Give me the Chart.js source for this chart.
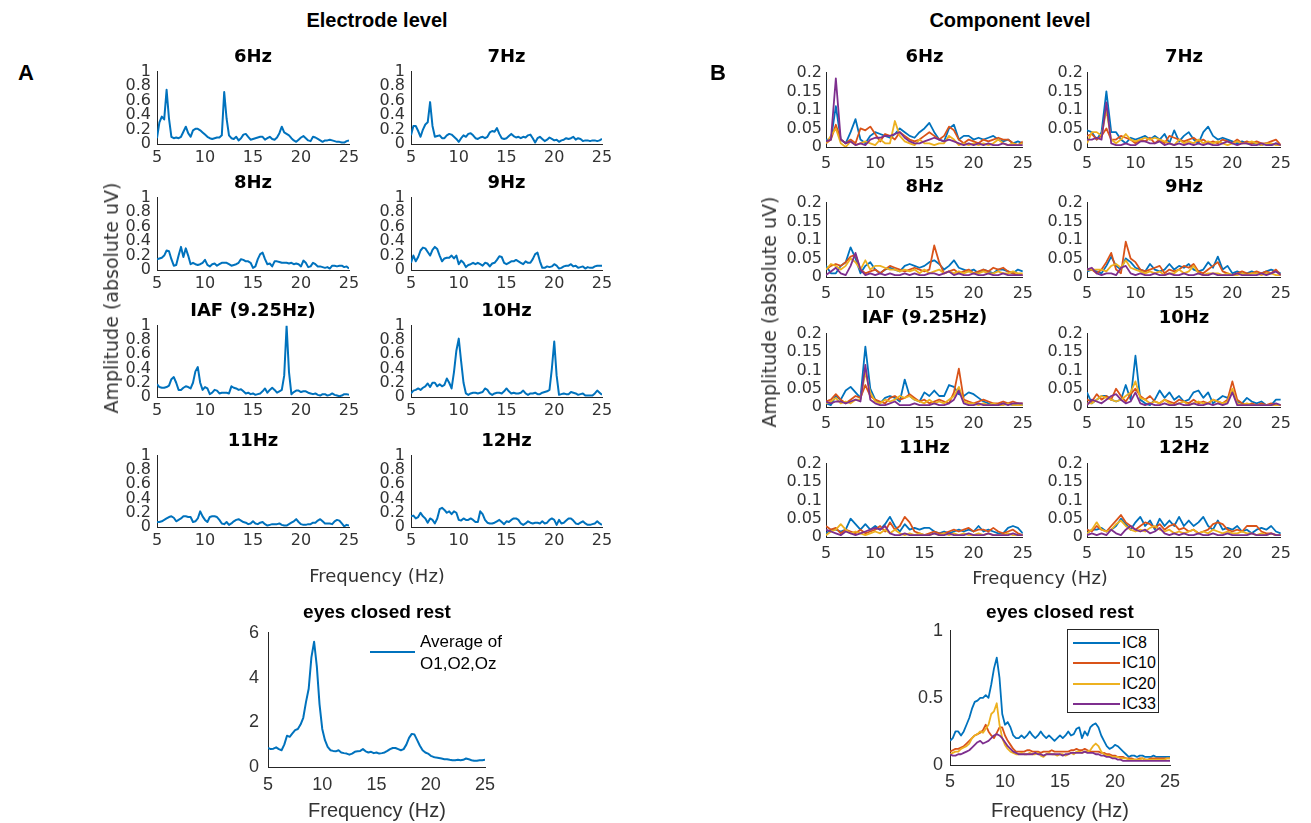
<!DOCTYPE html>
<html><head><meta charset="utf-8">
<script src="https://cdn.jsdelivr.net/npm/chart.js@4.4.1/dist/chart.umd.min.js"></script>
<style>
html,body{margin:0;padding:0;background:#fff;}
#fig{position:relative;width:1311px;height:823px;overflow:hidden;background:#fff;}
#fig canvas{position:absolute;z-index:1;}
.t{position:absolute;z-index:2;white-space:nowrap;color:#000;transform:translate(-50%,-50%);line-height:1;}
</style></head><body><div id="fig"></div>
<script>
// ---------- frequency axes ----------
const freqFine = [5,5.25,5.5,5.75,6,6.25,6.5,6.75,7,7.25,7.5,7.75,8,8.25,8.5,8.75,9,9.25,9.5,9.75,
 10,10.25,10.5,10.75,11,11.25,11.5,11.75,12,12.25,12.5,12.75,13,13.25,13.5,13.75,14,14.25,14.5,14.75,
 15,15.25,15.5,15.75,16,16.25,16.5,16.75,17,17.25,17.5,17.75,18,18.25,18.5,18.75,19,19.25,19.5,19.75,
 20,20.25,20.5,20.75,21,21.25,21.5,21.75,22,22.25,22.5,22.75,23,23.25,23.5,23.75,24,24.25,24.5,24.75,25];
const freqCoarse = [5,5.5,6,6.5,7,7.5,8,8.5,9,9.5,10,10.5,11,11.5,12,12.5,13,13.5,14,14.5,
 15,15.5,16,16.5,17,17.5,18,18.5,19,19.5,20,20.5,21,21.5,22,22.5,23,23.5,24,24.5,25];

// ---------- tick labels ----------
const xTicks = [5,10,15,20,25];
const yTicksElectrode = [0,0.2,0.4,0.6,0.8,1];
const yTicksComponent = [0,0.05,0.1,0.15,0.2];
const yTicksRestElectrode = [0,2,4,6];
const yTicksRestComponent = [0,0.5,1];

// ---------- electrode level (absolute uV) ----------
const elec6Hz = [0.08,0.30,0.38,0.34, 0.75,0.35,0.10,0.08, 0.09,0.08,0.10,0.17, 0.24,0.15,0.10,0.19,
 0.21,0.21,0.19,0.16, 0.13,0.10,0.08,0.07, 0.08,0.09,0.09,0.12, 0.72,0.35,0.12,0.08, 0.07,0.10,0.05,0.08,
 0.13,0.14,0.10,0.06, 0.07,0.08,0.09,0.10, 0.10,0.06,0.08,0.10, 0.07,0.06,0.09,0.15, 0.24,0.16,0.14,0.12,
 0.08,0.05,0.03,0.06, 0.09,0.11,0.08,0.05, 0.04,0.10,0.09,0.07, 0.05,0.03,0.05,0.05, 0.06,0.05,0.04,0.03,
 0.03,0.02,0.02,0.04, 0.05];
const elec7Hz = [0.12,0.25,0.25,0.18, 0.10,0.20,0.27,0.30, 0.58,0.25,0.10,0.11, 0.12,0.08,0.08,0.12,
 0.14,0.13,0.10,0.07, 0.03,0.08,0.12,0.10, 0.14,0.15,0.12,0.08, 0.07,0.09,0.10,0.08, 0.10,0.16,0.18,0.17,
 0.22,0.14,0.08,0.07, 0.08,0.11,0.14,0.11, 0.09,0.10,0.08,0.10, 0.09,0.12,0.13,0.08, 0.02,0.08,0.10,0.07,
 0.04,0.06,0.09,0.07, 0.05,0.06,0.03,0.05, 0.06,0.08,0.07,0.08, 0.10,0.06,0.08,0.07, 0.04,0.05,0.05,0.04,
 0.05,0.05,0.04,0.05, 0.07];
const elec8Hz = [0.15,0.16,0.17,0.20, 0.27,0.26,0.15,0.06, 0.07,0.20,0.32,0.18, 0.30,0.20,0.08,0.10,
 0.08,0.07,0.08,0.10, 0.14,0.07,0.05,0.08, 0.09,0.06,0.08,0.10, 0.10,0.10,0.08,0.06, 0.07,0.08,0.10,0.15,
 0.14,0.12,0.12,0.10, 0.03,0.05,0.15,0.22, 0.24,0.15,0.08,0.09, 0.05,0.12,0.12,0.11, 0.10,0.10,0.10,0.09,
 0.10,0.08,0.09,0.08, 0.05,0.13,0.10,0.04, 0.05,0.10,0.08,0.05, 0.05,0.04,0.03,0.04, 0.02,0.06,0.06,0.05,
 0.06,0.06,0.04,0.05, 0.02];
const elec9Hz = [0.10,0.20,0.12,0.18, 0.27,0.31,0.30,0.25, 0.20,0.28,0.32,0.29, 0.20,0.12,0.16,0.17,
 0.17,0.20,0.16,0.20, 0.08,0.13,0.10,0.04, 0.07,0.08,0.10,0.08, 0.10,0.08,0.06,0.10, 0.09,0.05,0.09,0.10,
 0.14,0.19,0.18,0.10, 0.08,0.10,0.12,0.12, 0.14,0.12,0.10,0.08, 0.12,0.10,0.10,0.15, 0.22,0.24,0.12,0.03,
 0.03,0.05,0.04,0.05, 0.08,0.06,0.02,0.03, 0.05,0.06,0.06,0.08, 0.05,0.06,0.03,0.04, 0.05,0.02,0.04,0.03,
 0.03,0.05,0.06,0.06, 0.06];
const elecIAF = [0.18,0.14,0.13,0.13, 0.14,0.16,0.25,0.28, 0.20,0.10,0.10,0.13, 0.15,0.14,0.12,0.20,
 0.36,0.42,0.20,0.10, 0.14,0.12,0.04,0.06, 0.10,0.09,0.05,0.06, 0.06,0.06,0.05,0.15, 0.13,0.12,0.10,0.11,
 0.08,0.05,0.06,0.04, 0.05,0.03,0.04,0.05, 0.08,0.12,0.06,0.10, 0.13,0.10,0.06,0.08, 0.10,0.30,1.00,0.35,
 0.04,0.07,0.09,0.09, 0.07,0.08,0.08,0.06, 0.05,0.04,0.05,0.03, 0.02,0.04,0.04,0.02, 0.03,0.05,0.03,0.02,
 0.01,0.02,0.04,0.04, 0.03];
const elec10Hz = [0.05,0.09,0.10,0.12, 0.10,0.13,0.15,0.19, 0.14,0.20,0.20,0.15, 0.18,0.15,0.17,0.26,
 0.20,0.12,0.35,0.65, 0.82,0.50,0.20,0.05, 0.03,0.05,0.06,0.06, 0.05,0.06,0.07,0.12, 0.10,0.05,0.03,0.05,
 0.06,0.06,0.05,0.08, 0.12,0.08,0.05,0.06, 0.05,0.05,0.06,0.09, 0.05,0.03,0.05,0.05, 0.06,0.04,0.04,0.06,
 0.07,0.08,0.10,0.40, 0.78,0.30,0.03,0.04, 0.05,0.04,0.04,0.07, 0.06,0.05,0.03,0.04, 0.05,0.02,0.02,0.02,
 0.02,0.05,0.09,0.06, 0.03];
const elec11Hz = [0.07,0.07,0.08,0.10, 0.12,0.14,0.15,0.13, 0.08,0.10,0.12,0.15, 0.15,0.14,0.14,0.07,
 0.08,0.12,0.22,0.15, 0.10,0.07,0.14,0.15, 0.15,0.14,0.10,0.05, 0.04,0.07,0.03,0.05, 0.08,0.10,0.11,0.09,
 0.07,0.06,0.04,0.05, 0.08,0.05,0.04,0.06, 0.07,0.04,0.02,0.03, 0.04,0.04,0.04,0.05, 0.03,0.02,0.02,0.04,
 0.06,0.08,0.11,0.07, 0.04,0.03,0.03,0.04, 0.04,0.06,0.06,0.09, 0.11,0.08,0.05,0.05, 0.05,0.04,0.08,0.10,
 0.09,0.05,0.01,0.03, 0.02];
const elec12Hz = [0.15,0.16,0.12,0.14, 0.20,0.15,0.12,0.06, 0.12,0.10,0.05,0.12, 0.25,0.27,0.24,0.20,
 0.22,0.18,0.22,0.20, 0.10,0.09,0.12,0.10, 0.10,0.12,0.10,0.07, 0.07,0.22,0.18,0.10, 0.06,0.05,0.05,0.06,
 0.08,0.10,0.07,0.04, 0.08,0.07,0.10,0.12, 0.12,0.10,0.05,0.03, 0.05,0.08,0.06,0.05, 0.06,0.06,0.05,0.08,
 0.05,0.06,0.10,0.12, 0.10,0.03,0.10,0.05, 0.06,0.09,0.12,0.12, 0.09,0.05,0.04,0.06, 0.08,0.05,0.03,0.03,
 0.04,0.05,0.08,0.05, 0.03];
const elecRest = [0.85,0.80,0.82,0.88, 0.80,0.75,1.00,1.40, 1.35,1.50,1.65,1.70, 1.90,2.20,2.90,3.50,
 4.90,5.60,4.50,2.80, 1.70,1.20,0.90,0.75, 0.72,0.70,0.75,0.65, 0.62,0.60,0.55,0.60, 0.68,0.70,0.72,0.80,
 0.70,0.65,0.68,0.62, 0.65,0.60,0.62,0.65, 0.72,0.80,0.85,0.85, 0.80,0.75,0.80,1.00, 1.30,1.48,1.45,1.20,
 0.95,0.75,0.65,0.60, 0.50,0.45,0.42,0.40, 0.38,0.35,0.35,0.32, 0.30,0.30,0.32,0.30, 0.32,0.38,0.35,0.30,
 0.28,0.28,0.30,0.30, 0.32];

// ---------- component level (IC8, IC10, IC20, IC33) ----------
const comp6Hz_IC8  = [0.02,0.02,0.11,0.02,0.01,0.04,0.075,0.02,0.01,0.03, 0.04,0.035,0.03,0.025,0.035,0.05,0.04,0.03,0.025,0.04, 0.05,0.065,0.04,0.02,0.015,0.05,0.06,0.02,0.03,0.03, 0.02,0.025,0.02,0.025,0.03,0.02,0.015,0.02,0.01,0.015, 0.01];
const comp6Hz_IC10 = [0.01,0.02,0.06,0.02,0.01,0.02,0.01,0.05,0.045,0.055, 0.035,0.015,0.035,0.03,0.02,0.04,0.03,0.02,0.015,0.02, 0.03,0.04,0.03,0.02,0.03,0.055,0.045,0.02,0.01,0.02, 0.015,0.01,0.02,0.015,0.02,0.025,0.02,0.02,0.01,0.005, 0.015];
const comp6Hz_IC20 = [0.01,0.03,0.05,0.01,0,0.015,0.005,0.01,0.015,0.01, 0.005,0.02,0.01,0.01,0.07,0.03,0.015,0.01,0.005,0.02, 0.01,0.01,0.005,0.01,0.01,0.03,0.02,0.005,0.01,0.005, 0.01,0.005,0.01,0.005,0.01,0.02,0.01,0.005,0.01,0.005, 0.01];
const comp6Hz_IC33 = [0.015,0.02,0.185,0.02,0.01,0.015,0.005,0.01,0.005,0.02, 0.025,0.025,0.03,0.03,0.035,0.04,0.025,0.015,0.01,0.01, 0.015,0.02,0.025,0.02,0.015,0.02,0.015,0.01,0.005,0.01, 0.005,0.01,0.005,0.01,0.005,0.005,0.01,0.005,0.005,0.005, 0.005];

const comp7Hz_IC8  = [0.045,0.04,0.02,0.04,0.15,0.04,0.04,0.02,0.01,0.025, 0.02,0.025,0.03,0.02,0.03,0.02,0.035,0.01,0.045,0.015, 0.03,0.04,0.02,0.01,0.04,0.055,0.03,0.02,0.025,0.02, 0.015,0.01,0.015,0.01,0.01,0.01,0.005,0.01,0.005,0.01, 0.005];
const comp7Hz_IC10 = [0.03,0.035,0.02,0.03,0.05,0.02,0.02,0.03,0.025,0.02, 0.01,0.02,0.015,0.025,0.01,0.02,0.01,0.03,0.025,0.02, 0.015,0.02,0.025,0.015,0.02,0.01,0.015,0.01,0.02,0.015, 0.01,0.02,0.01,0.015,0.01,0.015,0.01,0.01,0.015,0.02, 0.005];
const comp7Hz_IC20 = [0.01,0.04,0.04,0.03,0.1,0.02,0.01,0.02,0.035,0.02, 0.015,0.02,0.025,0.02,0.025,0.02,0.015,0.01,0.005,0.02, 0.01,0.015,0.01,0.02,0.01,0.015,0.01,0.015,0.01,0.005, 0.01,0.015,0.01,0.01,0.015,0.01,0.005,0.01,0.01,0.005, 0.005];
const comp7Hz_IC33 = [0.02,0.02,0.025,0.02,0.12,0.01,0.005,0.005,0.01,0.005, 0.005,0.015,0.015,0.01,0.01,0.015,0.005,0.01,0.005,0.01, 0.005,0.01,0.005,0.01,0.005,0.01,0.005,0.005,0.01,0.015, 0.01,0.005,0.01,0.01,0.005,0.005,0.01,0.005,0.005,0.01, 0.005];

const comp8Hz_IC8  = [0.03,0.01,0.01,0.03,0.04,0.08,0.05,0.01,0.03,0.04, 0.02,0.01,0.02,0.025,0.02,0.015,0.03,0.035,0.03,0.025, 0.03,0.04,0.045,0.035,0.02,0.03,0.045,0.025,0.02,0.015, 0.02,0.01,0.02,0.015,0.01,0.02,0.02,0.015,0.01,0.02, 0.015];
const comp8Hz_IC10 = [0.02,0.03,0.035,0.03,0.04,0.055,0.06,0.02,0.01,0.015, 0.02,0.01,0.02,0.03,0.025,0.02,0.015,0.02,0.025,0.02, 0.015,0.02,0.085,0.04,0.01,0.015,0.02,0.01,0.015,0.02, 0.01,0.015,0.02,0.015,0.025,0.02,0.025,0.015,0.01,0.005, 0.005];
const comp8Hz_IC20 = [0.02,0.035,0.03,0.02,0.03,0.05,0.04,0.02,0.045,0.02, 0.03,0.03,0.025,0.02,0.02,0.015,0.02,0.015,0.02,0.01, 0.02,0.01,0.015,0.02,0.01,0.015,0.01,0.015,0.01,0.015, 0.01,0.01,0.015,0.01,0.01,0.015,0.01,0.01,0.015,0.01, 0.01];
const comp8Hz_IC33 = [0.005,0.015,0.025,0.01,0.005,0.03,0.065,0.02,0.005,0.01, 0.005,0.01,0.005,0.01,0.005,0.005,0.01,0.005,0.01,0.005, 0.005,0.01,0.01,0.005,0.01,0.015,0.005,0.01,0.005,0.005, 0.01,0.005,0.005,0.01,0.005,0.005,0.01,0.005,0.005,0.005, 0.005];

const comp9Hz_IC8  = [0.015,0.02,0.015,0.01,0.03,0.055,0.03,0.02,0.05,0.04, 0.025,0.02,0.015,0.035,0.02,0.015,0.02,0.035,0.02,0.03, 0.025,0.035,0.02,0.015,0.02,0.04,0.025,0.055,0.02,0.03, 0.01,0.015,0.01,0.01,0.015,0.01,0.01,0.015,0.02,0.015, 0.01];
const comp9Hz_IC10 = [0.02,0.02,0.01,0.02,0.04,0.065,0.02,0.01,0.095,0.05, 0.04,0.02,0.015,0.02,0.025,0.03,0.01,0.02,0.015,0.02, 0.03,0.025,0.035,0.015,0.01,0.02,0.03,0.04,0.015,0.01, 0.005,0.01,0.015,0.01,0.01,0.015,0.01,0.015,0.01,0.02, 0.005];
const comp9Hz_IC20 = [0.02,0.02,0.02,0.02,0.015,0.03,0.035,0.025,0.045,0.025, 0.02,0.015,0.01,0.015,0.01,0.015,0.005,0.01,0.01,0.02, 0.01,0.015,0.03,0.01,0.005,0.01,0.01,0.01,0.005,0.01, 0.005,0.005,0.01,0.005,0.01,0.01,0.005,0.01,0.01,0.005, 0.005];
const comp9Hz_IC33 = [0.02,0.025,0.01,0.005,0.01,0.01,0.005,0.025,0.03,0.01, 0.005,0.01,0.005,0.005,0.01,0.005,0.005,0.01,0.005,0.005, 0.01,0.005,0.005,0.01,0.005,0.005,0.01,0.005,0.005,0.005, 0.005,0.01,0.005,0.005,0.005,0.005,0.01,0.005,0.01,0.015, 0.005];

const compIAF_IC8  = [0.01,0.005,0.03,0.02,0.045,0.055,0.04,0.025,0.165,0.05, 0.02,0.01,0.025,0.03,0.025,0.015,0.075,0.03,0.02,0.015, 0.04,0.03,0.045,0.03,0.03,0.06,0.055,0.035,0.03,0.04, 0.035,0.025,0.015,0.01,0.005,0.005,0.01,0.01,0.005,0.01, 0.005];
const compIAF_IC10 = [0.015,0.02,0.035,0.02,0.01,0.02,0.03,0.025,0.06,0.03, 0.02,0.015,0.01,0.025,0.03,0.02,0.025,0.035,0.025,0.015, 0.02,0.01,0.015,0.02,0.015,0.01,0.04,0.105,0.02,0.015, 0.01,0.015,0.02,0.015,0.01,0.01,0.015,0.01,0.015,0.01, 0.01];
const compIAF_IC20 = [0.01,0.015,0.025,0.01,0.015,0.01,0.02,0.02,0.095,0.04, 0.015,0.01,0.02,0.015,0.02,0.03,0.025,0.03,0.02,0.015, 0.01,0.02,0.01,0.015,0.01,0.02,0.03,0.055,0.015,0.01, 0.01,0.005,0.01,0.005,0.01,0.005,0.005,0.01,0.005,0.005, 0.005];
const compIAF_IC33 = [0.015,0.01,0.015,0.015,0.01,0.015,0.02,0.015,0.115,0.02, 0.01,0.005,0.005,0.01,0.015,0.005,0.005,0.005,0.01,0.005, 0.005,0.005,0.01,0.005,0.005,0.01,0.02,0.045,0.01,0.005, 0.005,0.01,0.005,0.005,0.005,0.005,0.01,0.005,0.01,0.01, 0.01];

const comp10Hz_IC8  = [0.04,0.01,0.02,0.03,0.03,0.02,0.015,0.02,0.06,0.02, 0.14,0.02,0.01,0.005,0.02,0.045,0.025,0.04,0.02,0.03, 0.015,0.02,0.04,0.045,0.025,0.04,0.01,0.02,0.03,0.025, 0.04,0.015,0.01,0.025,0.015,0.01,0.015,0.005,0.005,0.02, 0.02];
const comp10Hz_IC10 = [0.02,0.015,0.035,0.02,0.03,0.02,0.05,0.03,0.015,0.035, 0.05,0.03,0.02,0.03,0.015,0.01,0.02,0.015,0.01,0.02, 0.015,0.01,0.02,0.01,0.015,0.01,0.02,0.015,0.01,0.02, 0.07,0.02,0.01,0.005,0.01,0.005,0.01,0.005,0.01,0.005, 0.005];
const comp10Hz_IC20 = [0.01,0.01,0.02,0.03,0.025,0.02,0.015,0.02,0.03,0.04, 0.07,0.025,0.02,0.01,0.015,0.01,0.02,0.01,0.005,0.01, 0.015,0.005,0.01,0.015,0.01,0.01,0.02,0.015,0.01,0.015, 0.05,0.01,0.005,0.01,0.005,0.005,0.005,0.005,0.005,0.005, 0.005];
const comp10Hz_IC33 = [0.005,0.02,0.015,0.01,0.02,0.03,0.035,0.02,0.01,0.015, 0.04,0.01,0.005,0.01,0.005,0.005,0.01,0.005,0.005,0.01, 0.005,0.005,0.01,0.005,0.005,0.01,0.005,0.01,0.005,0.01, 0.04,0.005,0.005,0.005,0.005,0.005,0.005,0.005,0.005,0.01, 0.005];

const comp11Hz_IC8  = [0.01,0.02,0.02,0.015,0.02,0.05,0.035,0.02,0.035,0.02, 0.03,0.02,0.035,0.055,0.03,0.015,0.035,0.02,0.025,0.02, 0.025,0.025,0.015,0.01,0.015,0.01,0.015,0.02,0.015,0.02, 0.015,0.03,0.015,0.02,0.015,0.01,0.01,0.025,0.03,0.025, 0.01];
const comp11Hz_IC10 = [0.03,0.02,0.025,0.01,0.02,0.015,0.01,0.02,0.01,0.015, 0.02,0.03,0.015,0.04,0.02,0.03,0.055,0.04,0.015,0.01, 0.005,0.01,0.015,0.01,0.01,0.015,0.02,0.015,0.02,0.025, 0.015,0.02,0.02,0.015,0.025,0.015,0.01,0.015,0.02,0.01, 0.005];
const comp11Hz_IC20 = [0.005,0.015,0.02,0.035,0.02,0.01,0.015,0.01,0.005,0.01, 0.015,0.01,0.02,0.01,0.02,0.01,0.005,0.01,0.005,0.01, 0.005,0.005,0.01,0.005,0.01,0.005,0.01,0.005,0.01,0.005, 0.005,0.01,0.005,0.01,0.005,0.005,0.005,0.01,0.005,0.005, 0.005];
const comp11Hz_IC33 = [0.02,0.015,0.01,0.005,0.015,0.01,0.005,0.01,0.015,0.02, 0.025,0.02,0.03,0.01,0.005,0.005,0.01,0.005,0.005,0.005, 0.005,0.005,0.01,0.005,0.005,0.01,0.005,0.005,0.005,0.01, 0.005,0.005,0.005,0.01,0.005,0.005,0.005,0.005,0.01,0.005, 0.005];

const comp12Hz_IC8  = [0.01,0.02,0.02,0.025,0.015,0.02,0.03,0.05,0.035,0.02, 0.04,0.055,0.03,0.045,0.02,0.05,0.03,0.045,0.03,0.055, 0.03,0.045,0.03,0.04,0.055,0.03,0.02,0.045,0.02,0.025, 0.02,0.03,0.015,0.02,0.01,0.02,0.025,0.02,0.03,0.015, 0.01];
const comp12Hz_IC10 = [0.02,0.015,0.03,0.02,0.015,0.03,0.045,0.06,0.04,0.03, 0.02,0.03,0.04,0.035,0.025,0.035,0.02,0.03,0.035,0.02, 0.025,0.015,0.02,0.01,0.015,0.02,0.035,0.04,0.035,0.02, 0.015,0.02,0.015,0.03,0.03,0.03,0.015,0.01,0.01,0.005, 0.005];
const comp12Hz_IC20 = [0.01,0.02,0.04,0.02,0.015,0.02,0.035,0.045,0.03,0.02, 0.015,0.02,0.015,0.025,0.03,0.02,0.015,0.02,0.01,0.015, 0.01,0.015,0.02,0.01,0.015,0.01,0.02,0.015,0.01,0.015, 0.01,0.01,0.015,0.01,0.01,0.005,0.01,0.005,0.01,0.005, 0.005];
const comp12Hz_IC33 = [0.005,0.01,0.005,0.01,0.005,0.02,0.01,0.005,0.02,0.03, 0.02,0.015,0.02,0.01,0.015,0.025,0.01,0.005,0.01,0.005, 0.01,0.005,0.005,0.01,0.005,0.005,0.01,0.005,0.005,0.01, 0.005,0.005,0.005,0.005,0.01,0.005,0.005,0.005,0.01,0.005, 0.005];

const compRest_IC8 = [0.18,0.20,0.25,0.25, 0.22,0.25,0.30,0.35, 0.42,0.47,0.48,0.50, 0.50,0.52,0.50,0.60,
 0.72,0.80,0.65,0.38, 0.30,0.32,0.28,0.22, 0.20,0.20,0.22,0.20, 0.22,0.25,0.22,0.20, 0.22,0.25,0.22,0.20,
 0.22,0.20,0.18,0.20, 0.22,0.20,0.22,0.25, 0.22,0.23,0.27,0.28, 0.20,0.25,0.22,0.28, 0.30,0.31,0.28,0.22,
 0.18,0.14,0.12,0.13, 0.15,0.14,0.12,0.10, 0.08,0.06,0.07,0.07, 0.06,0.07,0.07,0.06, 0.06,0.06,0.07,0.06,
 0.06,0.06,0.06,0.06, 0.06];
const compRest_IC10 = [0.10,0.11,0.12,0.12, 0.13,0.14,0.16,0.18, 0.20,0.22,0.23,0.24, 0.26,0.30,0.25,0.22,
 0.20,0.24,0.28,0.28, 0.22,0.18,0.15,0.12, 0.10,0.10,0.10,0.10, 0.11,0.11,0.10,0.10, 0.10,0.09,0.10,0.10,
 0.10,0.11,0.10,0.10, 0.10,0.10,0.10,0.10, 0.11,0.11,0.12,0.11, 0.11,0.12,0.11,0.10, 0.10,0.10,0.10,0.09,
 0.09,0.08,0.08,0.07, 0.07,0.06,0.06,0.06, 0.05,0.05,0.05,0.04, 0.04,0.05,0.05,0.04, 0.04,0.05,0.05,0.05,
 0.05,0.05,0.05,0.05, 0.05];
const compRest_IC20 = [0.08,0.09,0.10,0.10, 0.12,0.13,0.14,0.16, 0.20,0.22,0.23,0.25, 0.24,0.27,0.30,0.38,
 0.40,0.46,0.30,0.20, 0.15,0.12,0.10,0.09, 0.08,0.08,0.09,0.08, 0.08,0.09,0.08,0.08, 0.09,0.07,0.06,0.08,
 0.09,0.08,0.08,0.07, 0.08,0.08,0.07,0.08, 0.09,0.08,0.10,0.10, 0.09,0.10,0.10,0.11, 0.14,0.16,0.14,0.10,
 0.08,0.07,0.07,0.06, 0.06,0.06,0.05,0.05, 0.05,0.04,0.04,0.04, 0.04,0.04,0.05,0.04, 0.04,0.04,0.04,0.04,
 0.04,0.04,0.04,0.05, 0.05];
const compRest_IC33 = [0.08,0.07,0.07,0.08, 0.08,0.09,0.10,0.11, 0.13,0.15,0.17,0.18, 0.16,0.17,0.18,0.20,
 0.22,0.23,0.22,0.20, 0.17,0.14,0.12,0.10, 0.09,0.08,0.08,0.08, 0.08,0.08,0.08,0.09, 0.08,0.08,0.07,0.08,
 0.08,0.08,0.08,0.08, 0.08,0.07,0.08,0.08, 0.09,0.09,0.09,0.09, 0.09,0.10,0.09,0.09, 0.09,0.08,0.08,0.07,
 0.07,0.06,0.06,0.05, 0.05,0.04,0.04,0.03, 0.03,0.03,0.03,0.03, 0.03,0.03,0.03,0.03, 0.03,0.03,0.03,0.03,
 0.03,0.03,0.03,0.03, 0.03];

const componentNames = ['IC8','IC10','IC20','IC33'];
const legendElectrode = ['Average of', 'O1,O2,Oz'];

// ---------- styling ----------
const BLUE='#0072BD', ORANGE='#D95319', YELLOW='#EDB120', PURPLE='#7E2F8E', AX='#262626', TXT='#333333';
const compColors=[BLUE,ORANGE,YELLOW,PURPLE];
const fig=document.getElementById('fig');

function text(str,x,y,css){
  const d=document.createElement('div'); d.className='t'; d.textContent=str;
  d.style.left=x+'px'; d.style.top=y+'px'; d.style.cssText+=';'+css; fig.appendChild(d); return d;
}

function plot(o){
  const YW=52,PL=2,PT=12,PR=18,XH=34,PB=2;
  const cv=document.createElement('canvas');
  cv.width=o.w+YW+PL+PR; cv.height=o.h+PT+XH+PB;
  cv.style.left=(o.left-YW-PL)+'px'; cv.style.top=(o.top-PT)+'px';
  fig.appendChild(cv);
  const yt=o.yticks;
  new Chart(cv,{type:'line',
    data:{datasets:o.series.map((s,i)=>({data:o.x.map((f,k)=>({x:f,y:s[k]})),borderColor:o.colors[i],
      borderWidth:o.lw,pointRadius:0,tension:0,fill:false,order:-i,borderJoinStyle:'round'}))},
    options:{responsive:false,animation:false,events:[],devicePixelRatio:1,
      layout:{padding:{left:PL,top:PT,right:PR,bottom:PB}},
      plugins:{legend:{display:false},tooltip:{enabled:false},title:{display:false}},
      scales:{
        x:{type:'linear',min:xTicks[0],max:xTicks[xTicks.length-1],
          grid:{display:false,drawTicks:false},border:{display:true,color:AX,width:1},
          afterBuildTicks:s=>{s.ticks=xTicks.map(v=>({value:v}));},
          ticks:{autoSkip:false,maxRotation:0,padding:o.xpad,color:TXT,font:o.font,callback:v=>String(v)},
          afterFit:s=>{s.height=XH;}},
        y:{type:'linear',min:yt[0],max:yt[yt.length-1],
          grid:{display:false,drawTicks:false},border:{display:true,color:AX,width:1},
          afterBuildTicks:s=>{s.ticks=yt.map(v=>({value:v}));},
          ticks:{autoSkip:false,padding:o.ypad,color:TXT,font:o.font,callback:v=>String(+(+v).toFixed(3))},
          afterFit:s=>{s.width=YW;}}
      }}});
}

// ---------- electrode level ----------
const eFont={family:'DejaVu Sans',size:16,lineHeight:1.1};
const elecPanels=[
  ['6Hz',elec6Hz,157,69,192,75],['7Hz',elec7Hz,411,69,191,75],
  ['8Hz',elec8Hz,157,195,192,75],['9Hz',elec9Hz,411,195,191,75],
  ['IAF (9.25Hz)',elecIAF,157,323,192,74],['10Hz',elec10Hz,411,323,191,74],
  ['11Hz',elec11Hz,157,453,192,74],['12Hz',elec12Hz,411,453,191,74]];
elecPanels.forEach(p=>{
  plot({x:freqFine,series:[p[1]],colors:[BLUE],left:p[2],top:p[3],w:p[4],h:p[5],yticks:yTicksElectrode,
        lw:2,font:eFont,xpad:5,ypad:6});
  text(p[0],p[2]+p[4]/2,p[3]-14,'font:bold 18px "DejaVu Sans";');
});
plot({x:freqFine,series:[elecRest],colors:[BLUE],left:268,top:625,w:217,h:142,yticks:yTicksRestElectrode,
      lw:2,font:{family:'Liberation Sans',size:18,lineHeight:1.2},xpad:7,ypad:9});

// ---------- component level ----------
const cFont={family:'DejaVu Sans',size:16,lineHeight:1.1};
const compPanels=[
  ['6Hz',[comp6Hz_IC8,comp6Hz_IC10,comp6Hz_IC20,comp6Hz_IC33],826,72,197,75],
  ['7Hz',[comp7Hz_IC8,comp7Hz_IC10,comp7Hz_IC20,comp7Hz_IC33],1087,72,194,75],
  ['8Hz',[comp8Hz_IC8,comp8Hz_IC10,comp8Hz_IC20,comp8Hz_IC33],826,202,197,75],
  ['9Hz',[comp9Hz_IC8,comp9Hz_IC10,comp9Hz_IC20,comp9Hz_IC33],1087,202,194,75],
  ['IAF (9.25Hz)',[compIAF_IC8,compIAF_IC10,compIAF_IC20,compIAF_IC33],826,333,197,74],
  ['10Hz',[comp10Hz_IC8,comp10Hz_IC10,comp10Hz_IC20,comp10Hz_IC33],1087,333,194,74],
  ['11Hz',[comp11Hz_IC8,comp11Hz_IC10,comp11Hz_IC20,comp11Hz_IC33],826,463,197,74],
  ['12Hz',[comp12Hz_IC8,comp12Hz_IC10,comp12Hz_IC20,comp12Hz_IC33],1087,463,194,74]];
compPanels.forEach(p=>{
  plot({x:freqCoarse,series:p[1],colors:compColors,left:p[2],top:p[3],w:p[4],h:p[5],yticks:yTicksComponent,
        lw:1.8,font:cFont,xpad:8,ypad:4});
  text(p[0],p[2]+p[4]/2,p[3]-17,'font:bold 18px "DejaVu Sans";');
});
plot({x:freqFine,series:[compRest_IC8,compRest_IC10,compRest_IC20,compRest_IC33],colors:compColors,
      left:950,top:625,w:220,h:140,yticks:yTicksRestComponent,lw:1.8,
      font:{family:'Liberation Sans',size:18,lineHeight:1.2},xpad:6,ypad:7});

// ---------- texts ----------
text('Electrode level',377,20,'font:bold 20px "Liberation Sans";');
text('Component level',1010,20,'font:bold 20px "Liberation Sans";');
text('A',26,73,'font:bold 22px "Liberation Sans";');
text('B',718,73,'font:bold 22px "Liberation Sans";');
text('Amplitude (absolute uV)',111,298,'font:19px "DejaVu Sans";color:'+TXT+';transform:translate(-50%,-50%) rotate(-90deg);');
text('Amplitude (absolute uV)',769,312,'font:19px "DejaVu Sans";color:'+TXT+';transform:translate(-50%,-50%) rotate(-90deg);');
text('Frequency (Hz)',377,575,'font:18px "DejaVu Sans";color:'+TXT+';');
text('Frequency (Hz)',1040,577,'font:18px "DejaVu Sans";color:'+TXT+';');
text('eyes closed rest',377,612,'font:bold 19px "Liberation Sans";');
text('eyes closed rest',1060,612,'font:bold 19px "Liberation Sans";');
text('Frequency (Hz)',377,810,'font:20px "Liberation Sans";color:'+TXT+';');
text('Frequency (Hz)',1060,810,'font:20px "Liberation Sans";color:'+TXT+';');

// electrode legend
(function(){
  const ln=document.createElement('div');
  ln.style.cssText='position:absolute;z-index:2;left:370px;top:651px;width:45px;height:2px;background:'+BLUE;
  fig.appendChild(ln);
  text(legendElectrode[0],420,642,'font:17px "Liberation Sans";transform:translate(0,-50%);');
  text(legendElectrode[1],420,664,'font:17px "Liberation Sans";transform:translate(0,-50%);');
})();
// component legend
(function(){
  const box=document.createElement('div');
  box.style.cssText='position:absolute;z-index:2;left:1067px;top:629px;width:90px;height:82px;border:1px solid #262626;background:#fff;';
  fig.appendChild(box);
  componentNames.forEach((n,i)=>{
    const y=643+i*20.3;
    const ln=document.createElement('div');
    ln.style.cssText='position:absolute;z-index:3;left:1073px;top:'+(y-1)+'px;width:47px;height:2px;background:'+compColors[i];
    fig.appendChild(ln);
    const t=text(n,1122,y,'font:16px "Liberation Sans";transform:translate(0,-50%);'); t.style.zIndex=3;
  });
})();
</script></body></html>
